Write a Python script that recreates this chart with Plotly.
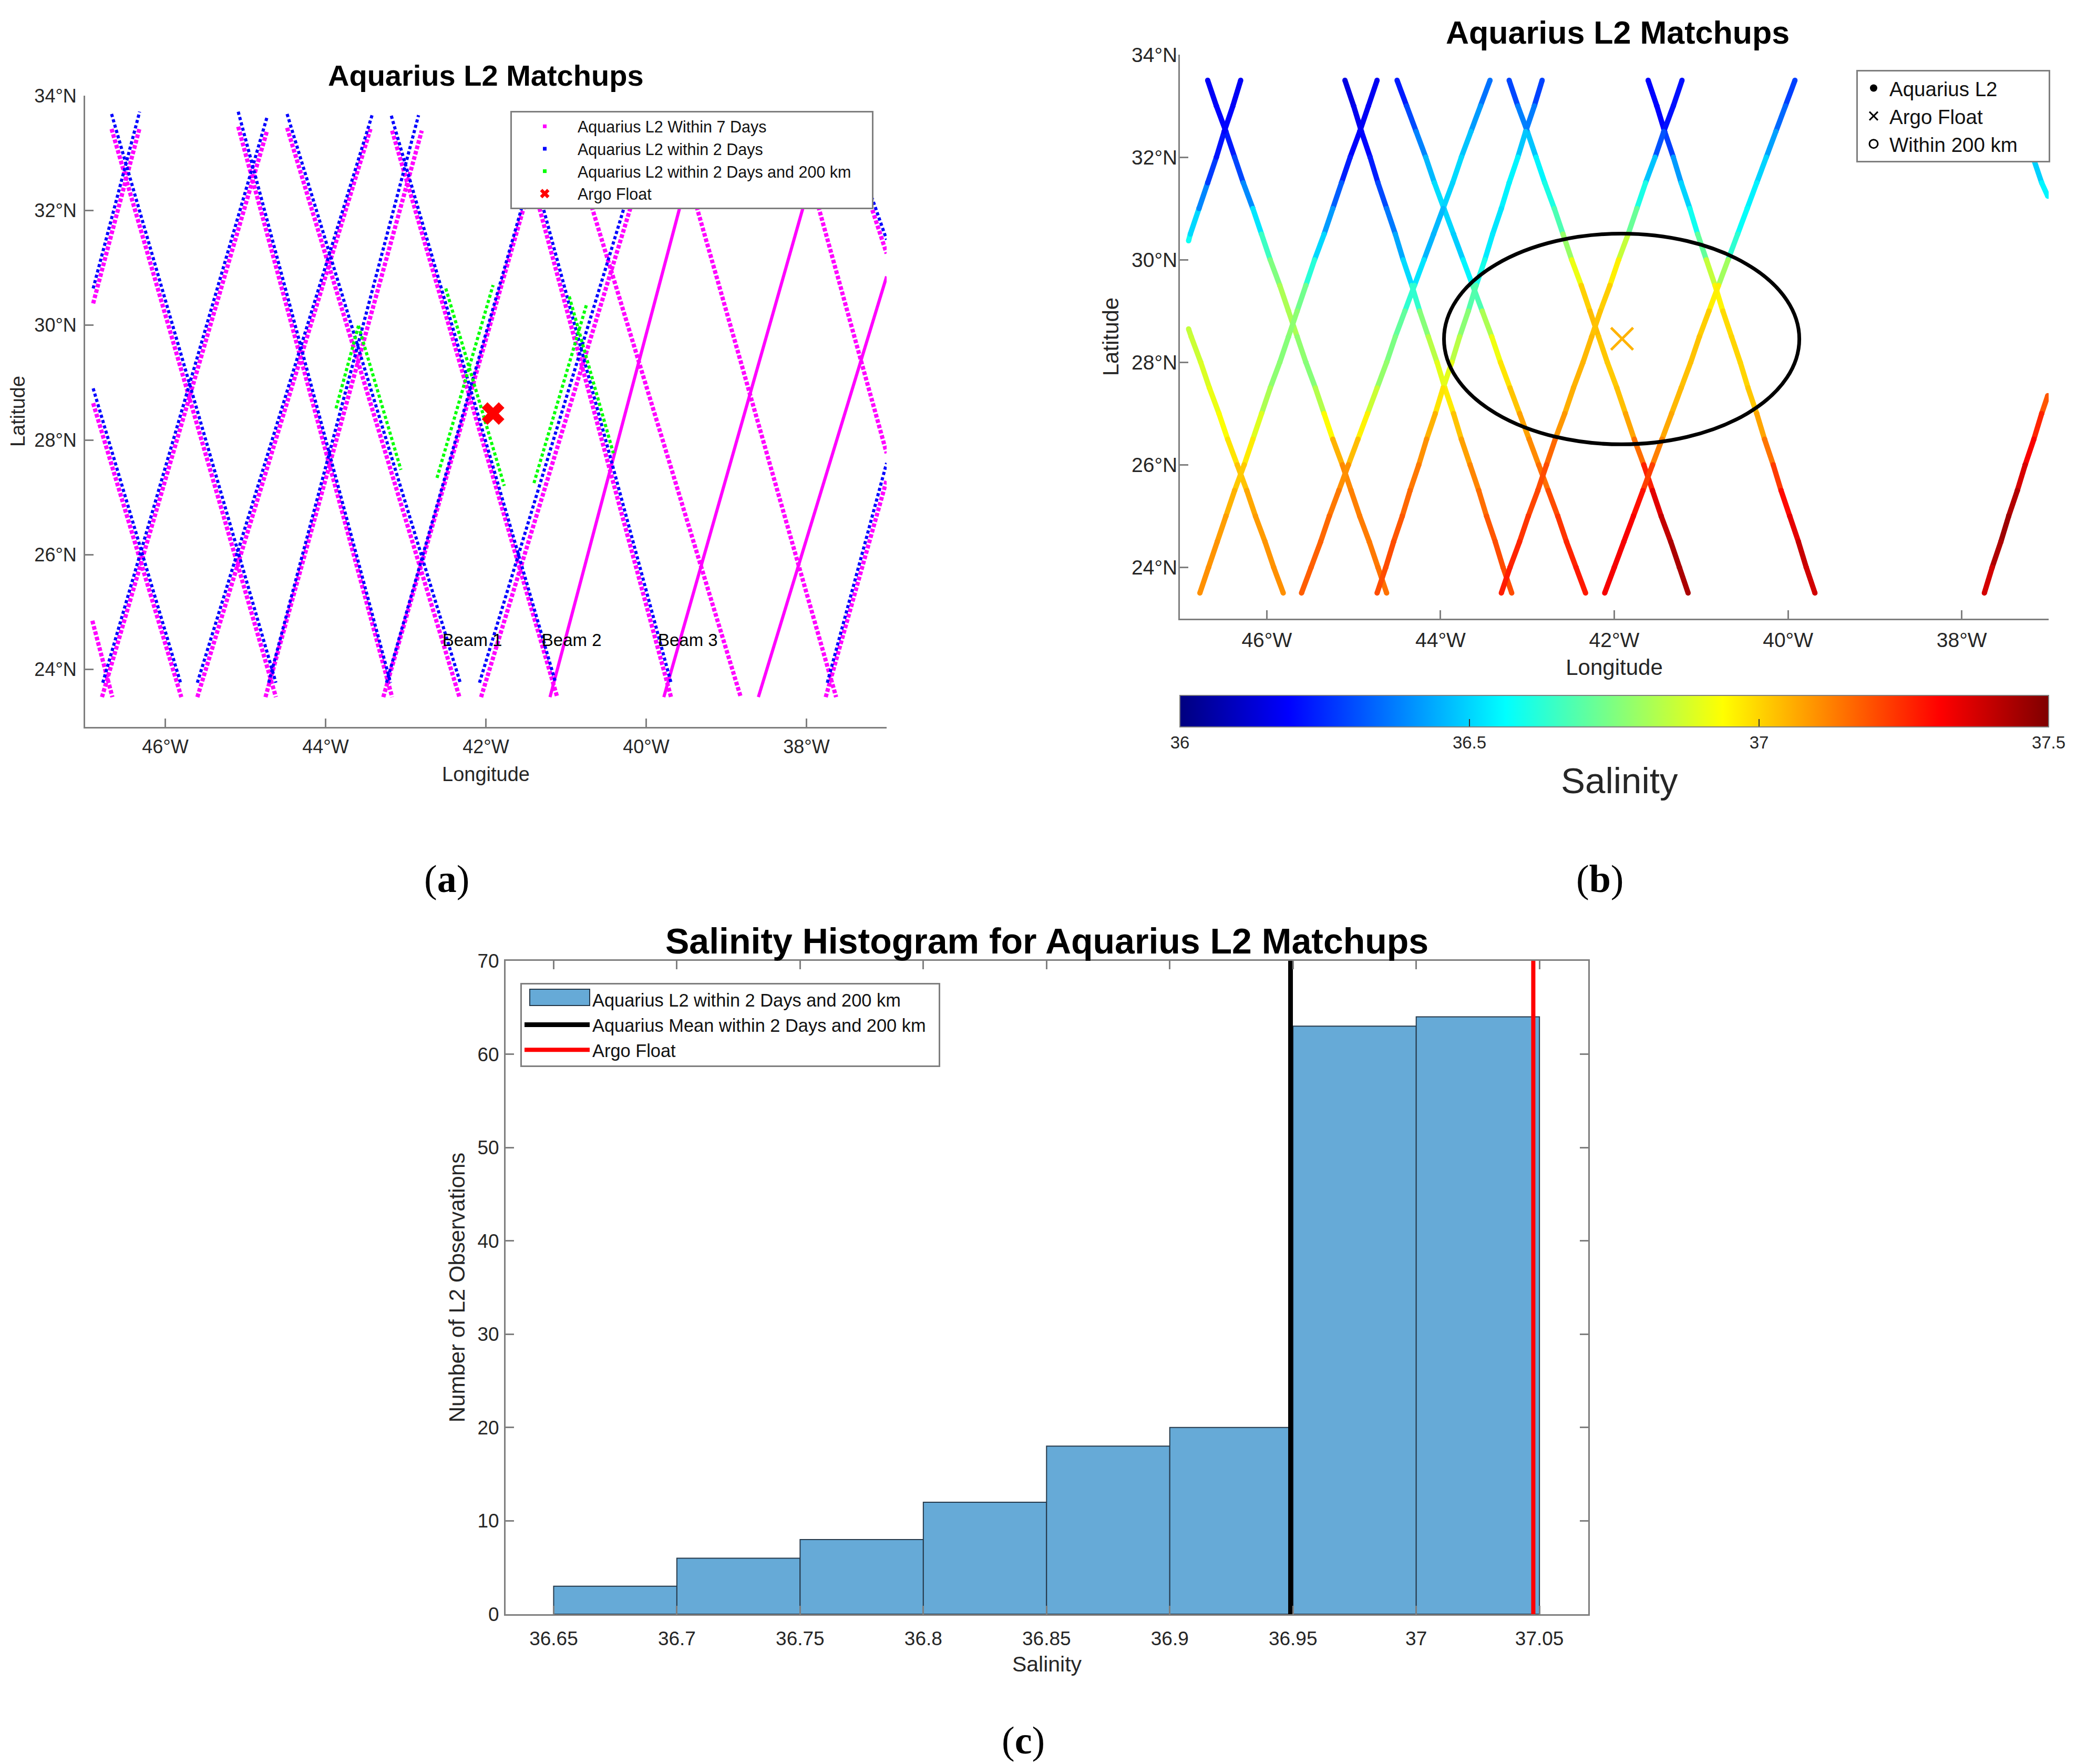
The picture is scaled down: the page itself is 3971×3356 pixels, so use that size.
import plotly.graph_objects as go
from plotly.colors import sample_colorscale

W, H = 3971, 3356

# panel (a): tracks as [start, end]
BLUE_LON = [[-46.90, -45.81], [-46.67, -44.62], [-45.09, -43.19], [-44.48, -42.32], [-43.18, -41.13],
            [-41.60, -39.69], [-37.21, -37.00], [-46.90, -46.32], [-46.78, -44.73], [-45.60, -43.42],
            [-44.71, -42.84], [-43.24, -41.22], [-42.08, -39.92], [-37.74, -37.00]]
BLUE_LAT = [[28.90, 23.77], [33.68, 23.77], [33.72, 23.77], [33.68, 23.77], [33.65, 23.77],
            [33.68, 23.77], [32.33, 31.49], [30.64, 33.72], [23.77, 33.63], [23.77, 33.66],
            [23.77, 33.66], [23.77, 33.68], [23.77, 33.68], [23.77, 27.60]]
MAGENTA_LON = [[-46.90, -45.80], [-46.91, -46.66], [-46.67, -44.62], [-45.09, -43.17], [-44.48, -42.33],
               [-43.17, -41.11], [-41.60, -39.69], [-37.20, -37.00], [-46.90, -46.32], [-46.79, -44.73],
               [-45.60, -43.44], [-44.75, -42.80], [-43.28, -41.25], [-42.06, -39.90], [-37.76, -37.00],
               [-40.70, -38.82], [-39.39, -37.63], [-37.87, -37.00]]
MAGENTA_LAT = [[28.64, 23.52], [24.85, 23.52], [33.42, 23.52], [33.46, 23.52], [33.44, 23.52],
               [33.39, 23.52], [33.43, 23.52], [32.10, 31.25], [30.38, 33.44], [23.52, 33.39],
               [23.52, 33.42], [23.52, 33.39], [23.52, 33.40], [23.52, 33.40], [23.52, 27.30],
               [32.16, 23.52], [32.16, 23.52], [32.16, 27.77]]
DENSE_LON = [[-41.20, -39.56], [-39.78, -38.02], [-38.60, -37.00]]
DENSE_LAT = [[23.52, 32.16], [23.52, 32.16], [23.52, 30.85]]
GREEN_LON = [[-43.87, -43.59], [-43.59, -43.06], [-42.50, -41.77], [-42.61, -41.91], [-41.40, -40.74], [-40.96, -40.41]]
GREEN_LAT = [[28.55, 29.99], [29.99, 27.48], [30.64, 27.20], [27.34, 30.70], [27.25, 30.38], [30.50, 27.77]]
BEAM_LON = [-42.17, -40.93, -39.48]
BEAM_LAT = [24.49, 24.49, 24.49]
BEAM_TEXT = ["Beam 1", "Beam 2", "Beam 3"]
ARGO_LON = -41.91
ARGO_LAT = 28.46
ARGO_SAL = 37.05

# panel (b): each track read every half degree of latitude, salinity from the colours
LAT_GRID = [33.5, 33.0, 32.5, 32.0, 31.5, 31.0, 30.5, 30.0, 29.5, 29.0, 28.5,
            28.0, 27.5, 27.0, 26.5, 26.0, 25.5, 25.0, 24.5, 24.0, 23.5]

D0_LAT = [28.65, 28.5, 28.0, 27.5, 27.0, 26.5, 26.0, 25.5, 25.0, 24.5, 24.0, 23.5]
D0_LON = [-46.90, -46.87, -46.76, -46.66, -46.55, -46.45, -46.34, -46.23, -46.13, -46.02, -45.92, -45.81]
D0_SAL = [36.85, 36.85, 36.87, 36.90, 36.92, 36.95, 37.00, 37.05, 37.08, 37.09, 37.10, 37.10]

D1_LON = [-46.68, -46.58, -46.47, -46.37, -46.27, -46.16, -46.06, -45.96, -45.85, -45.75, -45.65,
          -45.55, -45.44, -45.34, -45.24, -45.13, -45.03, -44.93, -44.82, -44.72, -44.62]
D1_SAL = [36.17, 36.18, 36.20, 36.25, 36.33, 36.45, 36.60, 36.70, 36.80, 36.83, 36.80,
          36.75, 36.77, 36.88, 37.00, 37.10, 37.12, 37.13, 37.13, 37.14, 37.15]

D2_LON = [-45.10, -45.00, -44.91, -44.81, -44.72, -44.62, -44.52, -44.43, -44.33, -44.24, -44.14,
          -44.04, -43.95, -43.85, -43.76, -43.66, -43.56, -43.47, -43.37, -43.28, -43.18]
D2_SAL = [36.14, 36.15, 36.18, 36.20, 36.26, 36.33, 36.40, 36.47, 36.55, 36.72, 36.80,
          36.87, 36.93, 37.00, 37.05, 37.10, 37.13, 37.17, 37.20, 37.20, 37.20]

D3_LON = [-44.50, -44.39, -44.28, -44.17, -44.07, -43.96, -43.85, -43.74, -43.63, -43.52, -43.41,
          -43.31, -43.20, -43.09, -42.98, -42.87, -42.76, -42.65, -42.55, -42.44, -42.33]
D3_SAL = [36.20, 36.25, 36.34, 36.42, 36.50, 36.53, 36.48, 36.50, 36.60, 36.75, 36.88,
          36.95, 37.00, 37.05, 37.10, 37.12, 37.18, 37.22, 37.25, 37.27, 37.28]

D4_LON = [-43.21, -43.11, -43.00, -42.90, -42.80, -42.69, -42.59, -42.49, -42.38, -42.28, -42.18,
          -42.08, -41.97, -41.87, -41.77, -41.66, -41.56, -41.46, -41.35, -41.25, -41.15]
D4_SAL = [36.25, 36.33, 36.42, 36.53, 36.57, 36.63, 36.72, 36.85, 36.97, 37.04, 37.03,
          37.01, 37.02, 37.04, 37.10, 37.20, 37.33, 37.38, 37.42, 37.45, 37.42]

D5_LON = [-41.61, -41.51, -41.42, -41.32, -41.23, -41.13, -41.04, -40.94, -40.84, -40.75, -40.65,
          -40.55, -40.46, -40.36, -40.27, -40.17, -40.08, -39.98, -39.88, -39.79, -39.69]
D5_SAL = [36.20, 36.18, 36.20, 36.36, 36.47, 36.53, 36.64, 36.78, 36.92, 36.98, 37.00,
          37.00, 37.00, 37.04, 37.10, 37.18, 37.27, 37.33, 37.37, 37.42, 37.34]

D6_LAT = [32.0, 31.5, 31.24]
D6_LON = [-37.18, -37.08, -37.01]
D6_SAL = [36.47, 36.52, 36.58]

A1_LAT = [30.37, 30.5, 31.0, 31.5, 32.0, 32.5, 33.0, 33.5]
A1_LON = [-46.90, -46.88, -46.78, -46.68, -46.58, -46.49, -46.39, -46.30]
A1_SAL = [36.60, 36.56, 36.45, 36.32, 36.23, 36.20, 36.18, 36.17]

A2_LON = [-44.73, -44.83, -44.93, -45.04, -45.14, -45.24, -45.34, -45.45, -45.55, -45.65, -45.75,
          -45.85, -45.96, -46.06, -46.16, -46.26, -46.37, -46.47, -46.57, -46.67, -46.77]
A2_SAL = [36.17, 36.17, 36.18, 36.19, 36.27, 36.38, 36.45, 36.56, 36.68, 36.78, 36.76,
          36.76, 36.78, 36.85, 36.93, 37.00, 37.03, 37.07, 37.09, 37.10, 37.10]

A3_LON = [-43.43, -43.54, -43.65, -43.76, -43.86, -43.97, -44.08, -44.19, -44.30, -44.41, -44.52,
          -44.62, -44.73, -44.84, -44.95, -45.06, -45.17, -45.28, -45.38, -45.49, -45.60]
A3_SAL = [36.33, 36.38, 36.45, 36.50, 36.52, 36.48, 36.44, 36.47, 36.58, 36.68, 36.73,
          36.76, 36.80, 36.92, 36.99, 37.08, 37.12, 37.15, 37.17, 37.17, 37.18]

A4_LON = [-42.83, -42.92, -43.02, -43.11, -43.21, -43.30, -43.40, -43.49, -43.59, -43.68, -43.78,
          -43.87, -43.97, -44.06, -44.16, -44.25, -44.35, -44.44, -44.54, -44.63, -44.73]
A4_SAL = [36.25, 36.32, 36.42, 36.54, 36.56, 36.53, 36.52, 36.55, 36.64, 36.73, 36.80,
          36.87, 36.93, 37.02, 37.08, 37.12, 37.15, 37.17, 37.20, 37.20, 37.20]

A5_LON = [-41.22, -41.32, -41.43, -41.53, -41.64, -41.74, -41.84, -41.95, -42.05, -42.16, -42.26,
          -42.36, -42.47, -42.57, -42.68, -42.78, -42.88, -42.99, -43.09, -43.20, -43.30]
A5_SAL = [36.22, 36.20, 36.22, 36.40, 36.55, 36.65, 36.78, 36.92, 37.00, 37.02, 37.03,
          37.05, 37.05, 37.06, 37.12, 37.20, 37.20, 37.22, 37.25, 37.27, 37.27]

A6_LON = [-39.92, -40.03, -40.14, -40.25, -40.36, -40.47, -40.58, -40.69, -40.80, -40.91, -41.02,
          -41.12, -41.23, -41.34, -41.45, -41.56, -41.67, -41.78, -41.89, -42.00, -42.11]
A6_SAL = [36.26, 36.30, 36.38, 36.47, 36.53, 36.56, 36.58, 36.68, 36.92, 37.00, 37.02,
          37.03, 37.03, 37.05, 37.08, 37.17, 37.27, 37.31, 37.33, 37.32, 37.33]

A7_LAT = [27.35, 27.0, 26.5, 26.0, 25.5, 25.0, 24.5, 24.0, 23.5]
A7_LON = [-37.01, -37.08, -37.17, -37.27, -37.36, -37.46, -37.55, -37.65, -37.74]
A7_SAL = [37.15, 37.22, 37.30, 37.34, 37.40, 37.45, 37.46, 37.40, 37.35]

RING_LON = [-43.96, -39.87]
RING_LAT = [26.40, 30.51]

# panel (c)
BIN_LEFT = [36.65, 36.70, 36.75, 36.80, 36.85, 36.90, 36.95, 37.00]
BIN_COUNT = [3, 6, 8, 12, 18, 20, 63, 64]
MEAN_SAL = 36.949
FLOAT_SAL = 37.0475

LON_TICKS = [-46, -44, -42, -40, -38]
LON_LABELS = ["46°W", "44°W", "42°W", "40°W", "38°W"]
LAT_TICKS = [24, 26, 28, 30, 32, 34]
LAT_LABELS = ["24°N", "26°N", "28°N", "30°N", "32°N", "34°N"]
SAL_TICKS = [36.65, 36.7, 36.75, 36.8, 36.85, 36.9, 36.95, 37, 37.05]
SAL_LABELS = ["36.65", "36.7", "36.75", "36.8", "36.85", "36.9", "36.95", "37", "37.05"]
COUNT_TICKS = [0, 10, 20, 30, 40, 50, 60, 70]
CBAR_TICKS = [36, 36.5, 37, 37.5]
CBAR_LABELS = ["36", "36.5", "37", "37.5"]

JET = [[0, "#00007f"], [0.125, "#0000ff"], [0.375, "#00ffff"], [0.625, "#ffff00"], [0.875, "#ff0000"], [1, "#7f0000"]]
FONT = "Liberation Sans"
TEXT = "#262626"
AXIS = "#7f7f7f"
BAR_FILL = "#66aad7"
BAR_EDGE = "#26394a"
CLEAR = "rgba(0,0,0,0)"
NBSP = "\u00a0"  # legends have no inner padding setting, so the longest entry carries it


def dom_x(left, right):
    return [left / W, right / W]


def dom_y(top, bottom):
    return [1 - bottom / H, 1 - top / H]


def salinity_colour(value):
    return sample_colorscale(JET, [(value - 36) / 1.5])[0]


fig = go.Figure()


def add_dotted(lons, lats, colour, dash, width):
    for lon, lat in zip(lons, lats):
        fig.add_trace(go.Scatter(x=lon, y=lat, mode="lines", line=dict(color=colour, width=width, dash=dash),
                                 showlegend=False, hoverinfo="skip", xaxis="x", yaxis="y"))


add_dotted(MAGENTA_LON, MAGENTA_LAT, "#ff00ff", "7px,3.5px", 8)
add_dotted(DENSE_LON, DENSE_LAT, "#ff00ff", "solid", 6)
add_dotted(BLUE_LON, BLUE_LAT, "#0000ff", "6px,4.5px", 6)
add_dotted(GREEN_LON, GREEN_LAT, "#00ff00", "6px,4.5px", 6)

fig.add_trace(go.Scatter(x=[ARGO_LON], y=[ARGO_LAT], mode="markers", showlegend=False,
                         marker=dict(symbol="x", size=38, color="#ff0000", line=dict(width=0)), xaxis="x", yaxis="y"))
fig.add_trace(go.Scatter(x=BEAM_LON, y=BEAM_LAT, mode="text", text=BEAM_TEXT, showlegend=False,
                         textfont=dict(family=FONT, size=33, color="#000000"), xaxis="x", yaxis="y"))

# legend-only entries for (a)
for name, colour in [("Aquarius L2 Within 7 Days", "#ff00ff"), ("Aquarius L2 within 2 Days", "#0000ff"),
                     ("Aquarius L2 within 2 Days and 200 km" + NBSP * 4, "#00ff00")]:
    fig.add_trace(go.Scatter(x=[None], y=[None], mode="markers", name=name, legend="legend",
                             marker=dict(symbol="square", size=7, color=colour), xaxis="x", yaxis="y"))
fig.add_trace(go.Scatter(x=[None], y=[None], mode="markers", name="Argo Float", legend="legend",
                         marker=dict(symbol="x", size=16, color="#ff0000", line=dict(width=0)), xaxis="x", yaxis="y"))

# panel (b) tracks, coloured segment by segment
TRACKS_B = [(D0_LON, D0_LAT, D0_SAL), (D1_LON, LAT_GRID, D1_SAL), (D2_LON, LAT_GRID, D2_SAL),
            (D3_LON, LAT_GRID, D3_SAL), (D4_LON, LAT_GRID, D4_SAL), (D5_LON, LAT_GRID, D5_SAL),
            (D6_LON, D6_LAT, D6_SAL), (A1_LON, A1_LAT, A1_SAL), (A2_LON, LAT_GRID, A2_SAL),
            (A3_LON, LAT_GRID, A3_SAL), (A4_LON, LAT_GRID, A4_SAL), (A5_LON, LAT_GRID, A5_SAL),
            (A6_LON, LAT_GRID, A6_SAL), (A7_LON, A7_LAT, A7_SAL)]
for lons, lats, sals in TRACKS_B:
    for i in range(len(lons) - 1):
        colour = salinity_colour((sals[i] + sals[i + 1]) / 2)
        fig.add_trace(go.Scatter(x=lons[i:i + 2], y=lats[i:i + 2], mode="lines+markers", showlegend=False,
                                 hoverinfo="skip", line=dict(color=colour, width=10),
                                 marker=dict(color=colour, size=10, line=dict(width=0)), xaxis="x2", yaxis="y2"))

fig.add_trace(go.Scatter(
    x=[ARGO_LON], y=[ARGO_LAT], mode="markers", showlegend=False, xaxis="x2", yaxis="y2",
    marker=dict(symbol="x-thin", size=42, color=[ARGO_SAL], cmin=36, cmax=37.5, colorscale=JET,
                line=dict(width=5, color=salinity_colour(ARGO_SAL)),
                colorbar=dict(orientation="h", x=2245 / W, xanchor="left", y=1 - 1323 / H, yanchor="top",
                              len=1653, lenmode="pixels", thickness=60, thicknessmode="pixels",
                              xpad=0, ypad=0, outlinecolor=AXIS, outlinewidth=2,
                              tickmode="array", tickvals=CBAR_TICKS, ticktext=CBAR_LABELS,
                              ticks="inside", ticklen=16, tickcolor="#333333", tickwidth=2,
                              tickfont=dict(family=FONT, size=33, color=TEXT)))))

for name, symbol, size, lw in [("Aquarius L2", "circle", 14, 0), ("Argo Float", "x-thin", 16, 3),
                               ("Within 200 km" + NBSP * 5, "circle-open", 16, 3)]:
    fig.add_trace(go.Scatter(x=[None], y=[None], mode="markers", name=name, legend="legend2", xaxis="x2", yaxis="y2",
                             marker=dict(symbol=symbol, size=size, color="#000000", line=dict(width=lw, color="#000000"))))

# panel (c)
fig.add_trace(go.Bar(x=BIN_LEFT, y=BIN_COUNT, width=0.05, offset=0, showlegend=False,
                     marker=dict(color=BAR_FILL, line=dict(color=BAR_EDGE, width=2)), xaxis="x3", yaxis="y3"))
fig.add_trace(go.Scatter(x=[None], y=[None], mode="lines", name="Aquarius L2 within 2 Days and 200 km",
                         line=dict(color=CLEAR, width=10), legend="legend3", xaxis="x3", yaxis="y3"))
fig.add_trace(go.Scatter(x=[MEAN_SAL, MEAN_SAL], y=[0, 70], mode="lines",
                         name="Aquarius Mean within 2 Days and 200 km" + NBSP * 2,
                         line=dict(color="#000000", width=9), legend="legend3", xaxis="x3", yaxis="y3"))
fig.add_trace(go.Scatter(x=[FLOAT_SAL, FLOAT_SAL], y=[0, 70], mode="lines", name="Argo Float",
                         line=dict(color="#ff0000", width=8), legend="legend3", xaxis="x3", yaxis="y3"))


def map_axis(domain, ticks, labels, title, size, title_size, standoff, label_gap, anchor):
    return dict(domain=domain, anchor=anchor, tickmode="array", tickvals=ticks, ticktext=labels, ticks="inside",
                ticklen=16, tickwidth=3, tickcolor=AXIS, showgrid=False, zeroline=False, showline=True, linecolor=AXIS,
                linewidth=3, ticklabelstandoff=label_gap, tickfont=dict(family=FONT, size=size, color=TEXT),
                title=dict(text=title, standoff=standoff, font=dict(family=FONT, size=title_size, color=TEXT)))


def legend(left, top, size, itemwidth):
    return dict(x=left / W, xanchor="left", y=1 - top / H, yanchor="top", bgcolor="#ffffff", bordercolor=AXIS,
                borderwidth=3, itemwidth=itemwidth, itemsizing="trace",
                font=dict(family=FONT, size=size, color="#111111"))


def caption(letter, x, y):
    return dict(text="(<b>%s</b>)" % letter, x=x / W, y=1 - y / H, xref="paper", yref="paper", showarrow=False,
                xanchor="center", yanchor="middle", font=dict(family="Liberation Serif", size=74, color="#000000"))


def heading(text, x, y, size, bold=True, colour="#000000"):
    text = "<b>%s</b>" % text if bold else text
    return dict(text=text, x=x / W, y=1 - y / H, xref="paper", yref="paper", showarrow=False,
                xanchor="center", yanchor="middle", font=dict(family=FONT, size=size, color=colour))


xa3 = map_axis(dom_x(962, 3022), SAL_TICKS, SAL_LABELS, "Salinity", 37, 41, 14, 12, "y3")
ya3 = map_axis(dom_y(1828, 3071), COUNT_TICKS, [str(v) for v in COUNT_TICKS], "Number of L2 Observations", 37, 42, 11, 2, "x3")
for axis in (xa3, ya3):
    axis.update(mirror="allticks")

fig.update_layout(
    width=W, height=H, autosize=False, margin=dict(l=0, r=0, t=0, b=0, autoexpand=False),
    paper_bgcolor="#ffffff", plot_bgcolor="#ffffff", barmode="overlay", hovermode=False,
    xaxis=dict(map_axis(dom_x(162, 1687), LON_TICKS, LON_LABELS, "Longitude", 36, 38, 20, 4, "y"), range=[-47, -37]),
    yaxis=dict(map_axis(dom_y(182, 1383), LAT_TICKS, LAT_LABELS, "Latitude", 36, 38, 7, 6, "x"), range=[23, 34]),
    xaxis2=dict(map_axis(dom_x(2245, 3898), LON_TICKS, LON_LABELS, "Longitude", 39, 42, 17, 4, "y2"), range=[-47, -37]),
    yaxis2=dict(map_axis(dom_y(104, 1177), LAT_TICKS, LAT_LABELS, "Latitude", 39, 42, 12, -6, "x2"), range=[23, 34]),
    xaxis3=dict(xa3, range=[36.6305, 37.0698]),
    yaxis3=dict(ya3, range=[0, 70]),
    legend=legend(971, 211, 30.5, 115),
    legend2=legend(3532, 133, 38.5, 50),
    legend3=dict(legend(990, 1870, 34.4, 124), bgcolor="rgba(255,255,255,0)"),
    shapes=[
        dict(type="circle", xref="x2", yref="y2", x0=RING_LON[0], x1=RING_LON[1], y0=RING_LAT[0], y1=RING_LAT[1],
             line=dict(color="#000000", width=7), layer="above"),
        dict(type="rect", xref="paper", yref="paper", x0=1008 / W, x1=1122 / W, y0=1 - 1913 / H, y1=1 - 1882 / H,
             fillcolor=BAR_FILL, line=dict(color=BAR_EDGE, width=2), layer="above"),
    ],
    annotations=[
        heading("Aquarius L2 Matchups", 924, 144, 56),
        heading("Aquarius L2 Matchups", 3078, 62, 61),
        heading("Salinity Histogram for Aquarius L2 Matchups", 1992, 1790, 68),
        heading("Salinity", 3081, 1485, 69, bold=False, colour=TEXT),
        caption("a", 850, 1672),
        caption("b", 3044, 1672),
        caption("c", 1947, 3311),
    ],
)

fig.write_html("out.html", config={"displayModeBar": False}, post_script="document.body.style.margin='0';")
